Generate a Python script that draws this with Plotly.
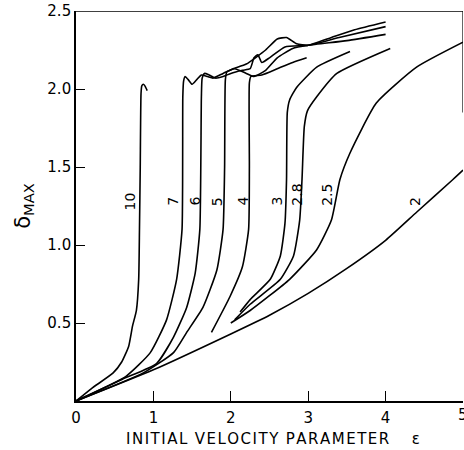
import plotly.graph_objects as go

# ---- data (epsilon, delta_max) ----
c10_x = [0, 0.2, 0.48, 0.59, 0.68, 0.73, 0.78, 0.81, 0.82, 0.83, 0.84, 0.85, 0.87, 0.89, 0.92]
c10_y = [0, 0.08, 0.18, 0.25, 0.35, 0.48, 0.58, 0.78, 1.10, 1.50, 1.97, 2.02, 2.03, 2.02, 1.99]

c7_x = [0, 0.65, 0.96, 1.17, 1.30, 1.37, 1.38, 1.39, 1.41, 1.45, 1.50, 1.56, 1.62, 1.70, 1.77, 1.90, 2.03,
        2.20, 2.45, 2.60, 2.72, 2.85, 3.00, 3.30, 3.60, 4.00]
c7_y = [0, 0.16, 0.31, 0.52, 0.78, 1.10, 1.95, 2.05, 2.08, 2.06, 2.03, 2.06, 2.09, 2.08, 2.07, 2.10, 2.13,
        2.16, 2.25, 2.32, 2.33, 2.29, 2.28, 2.33, 2.38, 2.43]

c6_x = [0, 0.60, 1.04, 1.26, 1.43, 1.54, 1.60, 1.62, 1.63, 1.66, 1.72, 1.80, 1.90, 2.00, 2.15, 2.25, 2.30,
        2.35, 2.40, 2.50, 2.70, 3.00, 3.40, 4.00]
c6_y = [0, 0.14, 0.24, 0.41, 0.60, 0.82, 1.10, 1.95, 2.07, 2.10, 2.09, 2.07, 2.08, 2.10, 2.12, 2.13, 2.20,
        2.22, 2.17, 2.20, 2.27, 2.28, 2.33, 2.40]

c5_x = [0, 0.87, 1.26, 1.43, 1.64, 1.82, 1.90, 1.92, 1.93, 1.95, 2.05, 2.20, 2.30, 2.45, 2.60, 2.80, 3.00,
        3.50, 4.00]
c5_y = [0, 0.18, 0.31, 0.44, 0.60, 0.84, 1.10, 1.50, 2.06, 2.11, 2.13, 2.10, 2.08, 2.12, 2.20, 2.26, 2.28,
        2.31, 2.35]

c4_x = [1.75, 1.99, 2.15, 2.23, 2.24, 2.24, 2.26, 2.40, 2.60, 2.80, 2.98]
c4_y = [0.44, 0.67, 0.86, 1.10, 1.50, 2.04, 2.08, 2.09, 2.13, 2.17, 2.20]

c3_x = [2.12, 2.25, 2.51, 2.64, 2.70, 2.72, 2.73, 2.76, 2.85, 3.11, 3.54]
c3_y = [0.57, 0.65, 0.78, 0.93, 1.14, 1.42, 1.85, 1.93, 2.01, 2.14, 2.24]

c28_x = [2.05, 2.25, 2.64, 2.81, 2.89, 2.92, 2.95, 2.99, 3.11, 3.37, 4.06]
c28_y = [0.52, 0.62, 0.78, 0.93, 1.16, 1.42, 1.76, 1.86, 1.95, 2.10, 2.26]

c25_x = [2.00, 2.25, 2.76, 3.11, 3.30, 3.41, 3.54, 3.88, 4.40, 5.00]
c25_y = [0.50, 0.58, 0.78, 0.97, 1.16, 1.42, 1.59, 1.91, 2.14, 2.30]

c2_x = [0, 1.00, 2.00, 2.50, 3.00, 3.50, 4.00, 4.40, 4.87, 5.00]
c2_y = [0, 0.20, 0.43, 0.55, 0.69, 0.85, 1.03, 1.21, 1.42, 1.48]

curve_names = ["10", "7", "6", "5", "4", "3", "2.8", "2.5", "2"]
label_x = [0.70, 1.26, 1.54, 1.82, 2.16, 2.60, 2.85, 3.24, 4.39]
label_y = [1.28, 1.28, 1.28, 1.28, 1.28, 1.28, 1.32, 1.32, 1.28]

x_ticks = [0, 1, 2, 3, 4]
x_tick_text = ["0", "1", "2", "3", "4"]
x_last_tick = 5
x_last_text = "5"
y_ticks = [0.5, 1.0, 1.5, 2.0, 2.5]
y_tick_text = ["0.5", "1.0", "1.5", "2.0", "2.5"]

x_title = "INITIAL VELOCITY PARAMETER"
x_title_symbol = "ε"
y_title = "δ<sub>MAX</sub>"

curves = [(c10_x, c10_y), (c7_x, c7_y), (c6_x, c6_y), (c5_x, c5_y), (c4_x, c4_y),
          (c3_x, c3_y), (c28_x, c28_y), (c25_x, c25_y), (c2_x, c2_y)]

FONT = "DejaVu Sans"

fig = go.Figure()
for (xs, ys), name in zip(curves, curve_names):
    fig.add_trace(go.Scatter(x=xs, y=ys, mode="lines", name=name,
                             line=dict(color="black", width=1.6, shape="spline", smoothing=0.5),
                             showlegend=False, hoverinfo="skip"))

for name, lx, ly in zip(curve_names, label_x, label_y):
    fig.add_annotation(x=lx, y=ly, text=name, showarrow=False, textangle=-90,
                       font=dict(family=FONT, size=14, color="black"))

# partial right border and top border
fig.add_shape(type="line", x0=5, x1=5, y0=1.85, y1=2.5, xref="x", yref="y",
              line=dict(color="black", width=1.2))
fig.add_shape(type="line", x0=0, x1=5, y0=2.5, y1=2.5, xref="x", yref="y",
              line=dict(color="black", width=1.6))

# last x tick label (cut by the page edge as in the reference)
fig.add_annotation(x=x_last_tick, y=0, yref="y", text=x_last_text, showarrow=False,
                   xanchor="center", yanchor="top", yshift=-3,
                   font=dict(family=FONT, size=15, color="black"))

hair = "\u200a"
spaced = hair.join(list(x_title)).replace(hair + " " + hair, "\u2002")
fig.add_annotation(xref="paper", yref="paper", x=0.51, y=-0.097, xanchor="center", yanchor="middle",
                   text=spaced + "\u2003\u2002" + x_title_symbol, showarrow=False,
                   font=dict(family=FONT, size=15, color="black"))
fig.add_annotation(xref="paper", yref="paper", x=-0.135, y=0.5, xanchor="center", yanchor="middle",
                   text=y_title, textangle=-90, showarrow=False,
                   font=dict(family=FONT, size=21, color="black"))

fig.update_xaxes(range=[0, 5], tickvals=x_ticks, ticktext=x_tick_text, ticks="inside", ticklen=10,
                 tickwidth=1.3, tickcolor="black", showline=True, linecolor="black", linewidth=1.6,
                 mirror=False, showgrid=False, zeroline=False, ticklabelstandoff=2,
                 tickfont=dict(family=FONT, size=15, color="black"))
fig.update_yaxes(range=[0, 2.5], tickvals=y_ticks, ticktext=y_tick_text, ticks="inside", ticklen=9,
                 tickwidth=1.3, tickcolor="black", showline=True, linecolor="black", linewidth=1.6,
                 mirror=False, showgrid=False, zeroline=False,
                 tickfont=dict(family=FONT, size=15, color="black"))

fig.update_layout(width=464, height=450, margin=dict(l=76, r=1, t=11, b=49),
                  paper_bgcolor="white", plot_bgcolor="white")

fig.write_html("out.html")
